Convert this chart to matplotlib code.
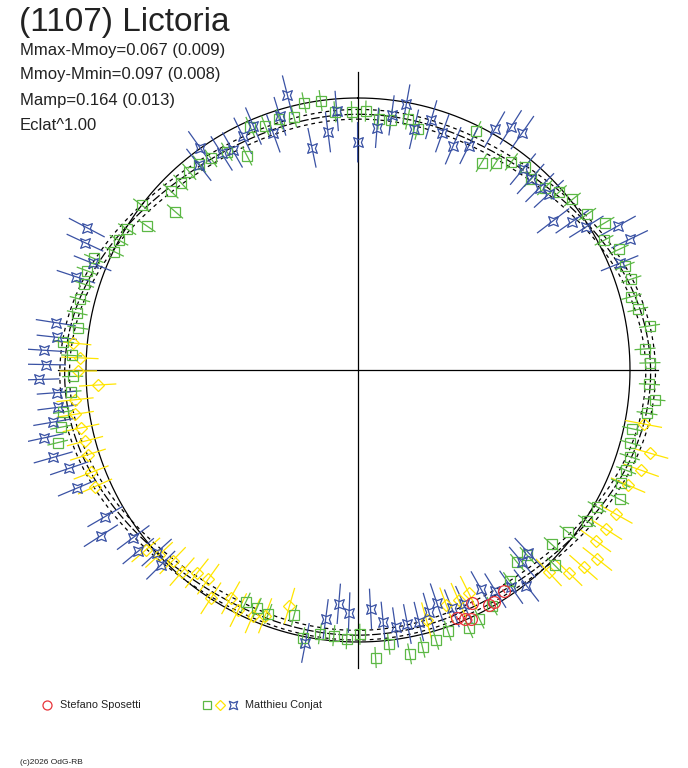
import numpy as np
import matplotlib.pyplot as plt
from matplotlib.path import Path
from matplotlib.collections import LineCollection

plt.rcParams['font.family'] = ['Liberation Sans', 'DejaVu Sans']

title = "(1107) Lictoria"
info = ["Mmax-Mmoy=0.067 (0.009)", "Mmoy-Mmin=0.097 (0.008)",
        "Mamp=0.164 (0.013)", "Eclat^1.00"]

# phase angle in degrees (clockwise from top) and relative magnitude (+ = fainter)
sposetti_ph = [158.2, 156.8, 155.5, 153.9, 150.9, 149.7, 146.6]
sposetti_mag = [0.021, 0.005, -0.006, 0.055, 0.016, 0.013, 0.032]

conjat_sq_ph = [348.6, 352.1, 354.9, 358.6, 345.8, 342.6, 339.2, 336.1, 332.6, 329.0,
                325.2, 322.4, 319.6, 316.6, 313.7, 307.3, 310.9, 304.3, 301.4, 298.5,
                295.9, 292.9, 290.1, 287.4, 284.3, 281.5, 278.6, 275.5, 272.9, 268.7,
                265.7, 261.9, 259.1, 256.4, 205.8, 203.0, 200.2, 194.6, 191.7, 188.2,
                185.2, 182.4, 179.6, 176.5, 173.6, 169.7, 166.9, 163.9, 161.0, 156.8,
                154.0, 150.4, 144.3, 140.4, 137.6, 134.8, 132.0, 127.7, 123.4, 119.8,
                113.3, 116.3, 110.5, 107.7, 105.0, 102.1, 98.5, 95.7, 92.8, 88.6,
                85.8, 81.4, 77.8, 75.0, 71.6, 68.7, 65.2, 62.2, 59.2, 55.8,
                51.5, 48.5, 45.7, 42.2, 39.4, 36.4, 33.6, 30.8, 26.3, 13.9,
                11.2, 7.5, 4.7, 1.7]
conjat_sq_mag = [-0.003, 0.000, 0.058, 0.062, 0.049, 0.042, 0.048, 0.026, 0.141, 0.079,
                 0.065, 0.055, 0.053, 0.064, 0.059, 0.000, 0.136, 0.074, 0.007, 0.000,
                 0.005, -0.067, -0.077, -0.069, -0.068, -0.066, -0.052, -0.109, -0.067, -0.061,
                 -0.072, -0.116, -0.140, -0.168, 0.064, 0.063, 0.055, 0.085, -0.006, 0.025,
                 0.024, 0.014, 0.035, -0.073, -0.018, -0.075, -0.058, -0.039, -0.017, -0.041,
                 -0.023, 0.002, 0.056, 0.102, 0.097, -0.023, 0.051, 0.030, -0.010, -0.015,
                 -0.064, -0.090, -0.065, -0.060, -0.045, -0.039, -0.092, -0.120, -0.090, -0.091,
                 -0.072, -0.104, -0.065, -0.050, -0.073, -0.065, -0.071, -0.028, -0.072, -0.024,
                 -0.009, 0.018, 0.050, 0.064, 0.041, 0.061, 0.105, 0.140, 0.023, 0.110,
                 0.074, 0.090, 0.092, 0.059]

conjat_di_ph = [275.4, 272.5, 269.8, 266.7, 264.0, 261.1, 258.2, 255.4, 252.6, 249.0,
                246.1, 229.7, 227.1, 224.2, 221.1, 218.4, 215.6, 212.8, 209.2, 206.5,
                203.2, 200.7, 196.2, 164.7, 159.4, 156.4, 153.6, 136.7, 133.9, 131.2,
                128.3, 125.7, 122.7, 119.2, 113.1, 109.5, 105.9, 100.7]
conjat_di_mag = [-0.066, -0.029, -0.035, 0.051, -0.057, -0.064, -0.050, -0.046, -0.050, -0.063,
                 -0.071, -0.028, 0.002, 0.028, 0.020, 0.057, 0.067, 0.002, 0.050, 0.017,
                 0.020, 0.042, 0.120, 0.056, 0.095, 0.095, 0.106, -0.028, -0.093, -0.126,
                 -0.150, -0.095, -0.105, -0.108, -0.098, -0.129, -0.145, -0.085]

conjat_st_ph = [345.6, 355.3, 352.8, 348.3, 359.9, 342.9, 340.3, 336.8, 333.8, 330.3,
                327.8, 324.6, 322.2, 297.7, 295.0, 291.9, 288.3, 278.9, 276.2, 273.6,
                271.0, 268.3, 265.7, 262.9, 260.3, 257.8, 254.0, 251.2, 247.2, 239.9,
                237.2, 233.3, 230.5, 227.8, 225.3, 190.9, 187.4, 184.7, 182.1, 177.0,
                174.3, 171.7, 169.0, 166.4, 163.7, 161.3, 158.5, 155.7, 150.7, 148.1,
                144.8, 142.0, 139.5, 137.0, 10.3, 7.5, 4.5, 13.1, 16.3, 19.6,
                23.0, 26.3, 29.6, 32.2, 34.7, 39.4, 42.1, 44.9, 47.3, 52.6,
                55.3, 57.9, 61.0, 64.3, 67.8]
conjat_st_mag = [-0.054, 0.055, 0.147, 0.205, 0.201, 0.030, 0.094, 0.030, 0.050, 0.085,
                 0.073, -0.003, 0.056, -0.156, -0.133, -0.064, -0.114, -0.154, -0.141, -0.192,
                 -0.183, -0.213, -0.136, -0.140, -0.169, -0.225, -0.205, -0.150, -0.151, -0.093,
                 -0.154, -0.038, -0.058, 0.001, -0.025, -0.027, 0.094, 0.170, 0.133, 0.149,
                 0.086, 0.054, 0.060, 0.060, 0.089, 0.120, 0.072, 0.067, 0.095, 0.055,
                 0.028, -0.007, 0.087, 0.100, 0.009, 0.069, 0.132, 0.113, 0.051, 0.094,
                 0.129, 0.100, -0.023, -0.067, -0.076, 0.055, 0.066, 0.066, 0.056, 0.120,
                 0.052, 0.011, -0.115, -0.134, -0.048]

# typical error per series (mag)
err_sposetti = 0.010
err_sq = 0.048
err_di = 0.085
err_st = 0.092

# fitted lightcurve: m0, a1, b1, a2, b2, a4
fit = [0.0041, 0.0215, 0.0016, 0.0739, -0.0023, -0.0255]
fit_sigma = 0.022

R0 = 272.0          # radius of the mean-magnitude circle (px)
PX_PER_MAG = 220.0

col_red = '#e8343a'
col_green = '#5cb845'
col_yellow = '#ffe500'
col_blue = '#3a52a4'

star = Path([(1, 1), (0, 0.6), (-1, 1), (-0.6, 0), (-1, -1), (0, -0.6),
             (1, -1), (0.6, 0), (1, 1)],
            [Path.MOVETO] + [Path.LINETO] * 7 + [Path.CLOSEPOLY])


def to_xy(ph, mag):
    th = np.radians(np.asarray(ph))
    r = R0 - np.asarray(mag) * PX_PER_MAG
    return r * np.sin(th), r * np.cos(th)


def draw_series(ax, ph, mag, err, color, marker, ms):
    th = np.radians(np.asarray(ph))
    r = R0 - np.asarray(mag) * PX_PER_MAG
    r1 = r - err * PX_PER_MAG
    r2 = r + err * PX_PER_MAG
    segs = [[(a * np.sin(t), a * np.cos(t)), (b * np.sin(t), b * np.cos(t))]
            for t, a, b in zip(th, r1, r2)]
    ax.add_collection(LineCollection(segs, colors=color, linewidths=0.9, zorder=3))
    x, y = to_xy(ph, mag)
    ax.plot(x, y, ls='none', marker=marker, ms=ms, mfc='none', mec=color,
            mew=0.9, zorder=4)


fig = plt.figure(figsize=(6.88, 7.68), dpi=100)
S = 330
ax = fig.add_axes([(358 - S) / 688, (768 - 370 - S) / 768, 2 * S / 688, 2 * S / 768])
ax.set_xlim(-S, S)
ax.set_ylim(-S, S)
ax.set_aspect('equal')
ax.axis('off')

ax.plot([-300, 300], [0, 0], color='black', lw=0.9, zorder=1)
ax.plot([0, 0], [-298, 298], color='black', lw=0.9, zorder=1)

t = np.linspace(0, 2 * np.pi, 721)
ax.plot(R0 * np.sin(t), R0 * np.cos(t), color='black', lw=0.9, zorder=2)

m = (fit[0] + fit[1] * np.cos(t) + fit[2] * np.sin(t) + fit[3] * np.cos(2 * t)
     + fit[4] * np.sin(2 * t) + fit[5] * np.cos(4 * t))
for dm, ls in [(0, (0, (7, 2))), (fit_sigma, (0, (3, 3))), (-fit_sigma, (0, (3, 3)))]:
    r = R0 - (m + dm) * PX_PER_MAG
    ax.plot(r * np.sin(t), r * np.cos(t), color='black', lw=0.9, ls=ls, zorder=2)

draw_series(ax, conjat_di_ph, conjat_di_mag, err_di, col_yellow, 'D', 6.6)
draw_series(ax, conjat_sq_ph, conjat_sq_mag, err_sq, col_green, 's', 7.0)
draw_series(ax, conjat_st_ph, conjat_st_mag, err_st, col_blue, star, 7.0)
draw_series(ax, sposetti_ph, sposetti_mag, err_sposetti, col_red, 'o', 8.5)

# text and legend in pixel coordinates
lax = fig.add_axes([0, 0, 1, 1], zorder=5)
lax.set_xlim(0, 688)
lax.set_ylim(768, 0)
lax.axis('off')
lax.patch.set_alpha(0)

lax.text(19, 23, title, fontsize=24, color='#222222', va='center', ha='left')
for i, s in enumerate(info):
    lax.text(20, 50 + 25 * i, s, fontsize=12, color='#222222', va='center', ha='left')

lax.plot([47], [705], marker='o', ms=6.5, mfc='none', mec=col_red, mew=0.9)
lax.text(60, 705, "Stefano Sposetti", fontsize=7.8, va='center', ha='left', color='#222222')
lax.plot([207], [705], marker='s', ms=5.5, mfc='none', mec=col_green, mew=0.9)
lax.plot([220], [705], marker='D', ms=5.0, mfc='none', mec=col_yellow, mew=0.9)
lax.plot([233], [705], marker=star, ms=6.0, mfc='none', mec=col_blue, mew=0.9)
lax.text(245, 705, "Matthieu Conjat", fontsize=7.8, va='center', ha='left', color='#222222')

lax.text(20, 762, "(c)2026 OdG-RB", fontsize=6, va='center', ha='left', color='#222222')

fig.savefig('out.png', dpi=100)
